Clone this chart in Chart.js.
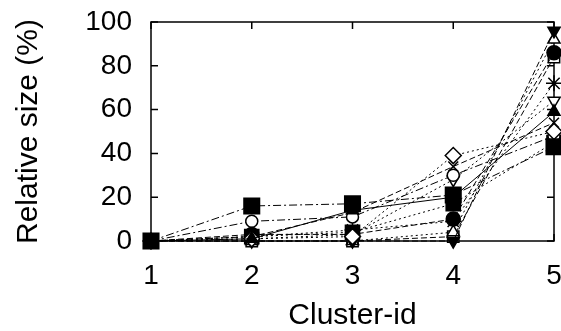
<!DOCTYPE html>
<html>
<head>
<meta charset="utf-8">
<script src="https://cdn.jsdelivr.net/npm/chart.js@4.4.1/dist/chart.umd.min.js"></script>
<style>
  html, body { margin: 0; padding: 0; background: #fff; }
</style>
</head>
<body>
<canvas id="grafico" width="561" height="331"></canvas>
<script>
// ===============================
//  DATI
// ===============================
const clusterIds = [1, 2, 3, 4, 5];
const yTicks = [0, 20, 40, 60, 80, 100];

const sQuadratoA   = [0, 16, 17, 21, 43];
const sContinua    = [0, 1, 14, 20, 59];
const sRombo       = [0, 1, 2, 39, 50];
const sCerchioPien = [0, 3, 3, 10, 86];
const sTriGiuPien  = [0, 0, 0, 0, 96];
const sTriSuVuoto  = [0, 0, 0, 4, 92];
const sCerchioVuo  = [0, 9, 11, 30, 48];
const sAsterisco   = [0, 2, 5, 9, 72];
const sTriGiuVuoto = [0, 1, 3, 28, 64];
const sQuadVuoto   = [0, 0, 0, 2, 84];
const sStella      = [0, 2, 13, 34, 54];
const sQuadratoB   = [0, 2, 4, 17, 45];

const FONT = "'Liberation Sans', Arial, sans-serif";

const DOT = [2, 3];
const DASH = [6, 3];
const DASHDOT = [8, 3, 2, 3];

function serie(label, values, style, pieno, dash, radius, rot) {
  return {
    label,
    data: clusterIds.map((x, i) => ({ x, y: values[i] })),
    borderColor: "#000",
    borderWidth: 1,
    borderDash: dash,
    pointStyle: style,
    pointRadius: radius,
    pointRotation: rot || 0,
    pointBackgroundColor: pieno ? "#000" : "#fff",
    pointBorderColor: "#000",
    pointBorderWidth: 1.5,
    tension: 0,
    clip: false
  };
}

const datasets = [
  serie("a", sQuadratoA, "rect", true, DASHDOT, 11),
  serie("b", sContinua, "triangle", true, [], 7),
  serie("c", sRombo, "rectRot", false, DOT, 8),
  serie("d", sCerchioPien, "circle", true, DASH, 7),
  serie("e", sTriGiuPien, "triangle", true, DASH, 7, 180),
  serie("f", sTriSuVuoto, "triangle", false, DOT, 7),
  serie("g", sCerchioVuo, "circle", false, DASHDOT, 6),
  serie("h", sAsterisco, "star", false, DOT, 8),
  serie("i", sTriGiuVuoto, "triangle", false, DOT, 7, 180),
  serie("l", sQuadVuoto, "rect", false, DASH, 8),
  serie("m", sStella, "crossRot", false, DASH, 7),
  serie("n", sQuadratoB, "rect", true, DOT, 10)
];

// ===============================
//  CORNICE E TACCHE
// ===============================
const cornice = {
  id: "cornice",
  beforeDatasetsDraw(chart) {
    const { ctx, chartArea: a, scales } = chart;
    ctx.save();
    ctx.strokeStyle = "#000";
    ctx.lineWidth = 1.5;
    ctx.strokeRect(a.left, a.top, a.right - a.left, a.bottom - a.top);
    ctx.beginPath();
    yTicks.forEach(v => {
      const y = scales.y.getPixelForValue(v);
      ctx.moveTo(a.left, y); ctx.lineTo(a.left + 7, y);
      ctx.moveTo(a.right, y); ctx.lineTo(a.right - 7, y);
    });
    clusterIds.forEach(v => {
      const x = scales.x.getPixelForValue(v);
      ctx.moveTo(x, a.bottom); ctx.lineTo(x, a.bottom - 7);
      ctx.moveTo(x, a.top); ctx.lineTo(x, a.top + 7);
    });
    ctx.stroke();
    ctx.restore();
  }
};

new Chart(document.getElementById("grafico").getContext("2d"), {
  type: "line",
  data: { datasets },
  plugins: [cornice],
  options: {
    responsive: false,
    animation: false,
    layout: { autoPadding: false, padding: { left: 0, top: 22, right: 7, bottom: 0 } },
    plugins: { legend: { display: false }, tooltip: { enabled: false } },
    scales: {
      x: {
        type: "linear",
        min: 1, max: 5,
        grid: { display: false, drawTicks: false },
        border: { display: false },
        ticks: {
          stepSize: 1, color: "#000", padding: 18,
          font: { family: FONT, size: 28 }
        },
        title: {
          display: true, text: "Cluster-id", color: "#000",
          font: { family: FONT, size: 30, lineHeight: 1 },
          padding: { top: 0, bottom: 0 }
        },
        afterFit(s) { s.height = 90; s.paddingLeft = 0; s.paddingRight = 0; }
      },
      y: {
        min: 0, max: 100,
        grid: { display: false, drawTicks: false },
        border: { display: false },
        ticks: {
          stepSize: 20, color: "#000", padding: 19,
          font: { family: FONT, size: 28 }
        },
        title: {
          display: true, text: "Relative size (%)", color: "#000",
          font: { family: FONT, size: 30, lineHeight: 1 },
          padding: { top: 14, bottom: 0 }
        },
        afterFit(s) { s.width = 151; s.paddingTop = 0; s.paddingBottom = 0; }
      }
    }
  }
});
</script>
</body>
</html>
